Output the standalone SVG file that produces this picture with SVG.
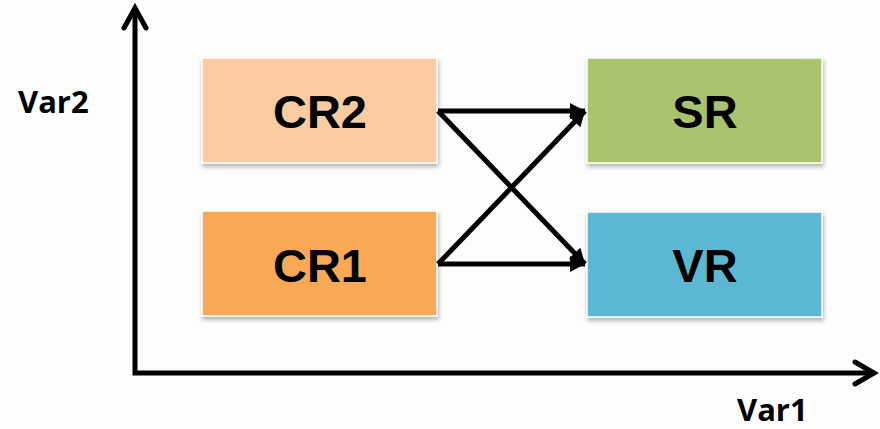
<svg xmlns="http://www.w3.org/2000/svg" width="880" height="429" viewBox="0 0 880 429">
<style>
.box{stroke:#ffffff;stroke-width:1.5;filter:url(#sh)}
.lbl{font-family:"Liberation Sans",Arial,sans-serif;font-weight:bold;font-size:47px;fill:#000;text-anchor:middle}
.ax{font-family:"Open Sans","Liberation Sans",sans-serif;font-weight:bold;font-size:31px;fill:#000}
.con{stroke:#000;stroke-width:5;fill:none;marker-end:url(#ah)}
.axis{stroke:#000;stroke-width:5;fill:none;stroke-linecap:square}
.chev{stroke:#000;stroke-width:5;fill:none;stroke-linecap:round;stroke-linejoin:miter}
</style>
<defs>
<filter id="sh" x="-10%" y="-10%" width="125%" height="130%">
<feDropShadow dx="1" dy="3" stdDeviation="2" flood-color="#000" flood-opacity="0.3"/>
</filter>
<marker id="ah" markerWidth="16" markerHeight="18" refX="15" refY="9" orient="auto" markerUnits="userSpaceOnUse">
<path d="M0,1 L15,9 L0,17 Z" fill="#000"/>
</marker>
</defs>
<rect width="880" height="429" fill="#fdfdfd"/>
<g id="axes">
<path class="axis" d="M135,14 L135,373 L872,373"/>
<path class="chev" d="M124,28 L135,8 L146,28"/>
<path class="chev" d="M855,362 L874,373 L855,384"/>
<text class="ax" x="18" y="113">Var2</text>
<text class="ax" x="737" y="421">Var1</text>
</g>
<g id="CR2"><rect class="box" x="202" y="58" width="235" height="105" fill="#FBCBA1"/><text class="lbl" x="320" y="128">CR2</text></g>
<g id="CR1"><rect class="box" x="202" y="211" width="235" height="105" fill="#F9A857"/><text class="lbl" x="320" y="282">CR1</text></g>
<g id="SR"><rect class="box" x="587" y="58" width="235" height="105" fill="#AAC46E"/><text class="lbl" x="705" y="128">SR</text></g>
<g id="VR"><rect class="box" x="587" y="212" width="235" height="105" fill="#5BB8D2"/><text class="lbl" x="705" y="282">VR</text></g>
<g id="connectors">
<path class="con" d="M438,111 L585,111"/>
<path class="con" d="M438,111 L585,264"/>
<path class="con" d="M438,264 L585,111"/>
<path class="con" d="M438,264 L585,264"/>
</g>
</svg>
